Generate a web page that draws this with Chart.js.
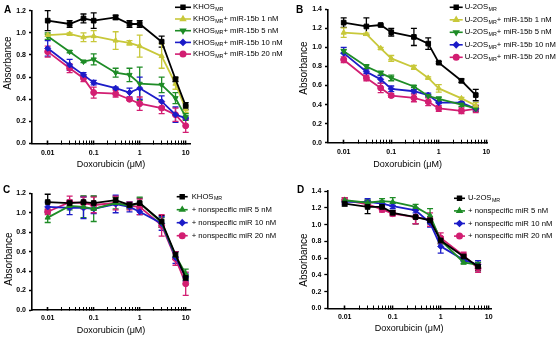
<!DOCTYPE html>
<html>
<head>
<meta charset="utf-8">
<script src="https://cdn.jsdelivr.net/npm/chart.js@4.4.1/dist/chart.umd.min.js"></script>
<style>
  html, body { margin: 0; padding: 0; background: #fff; }
  #wrap { position: relative; width: 558px; height: 339px; overflow: hidden; }
  canvas { position: absolute; }
</style>
</head>
<body>
<div id="wrap">
  <canvas id="chartA" width="300" height="170" style="left:0;top:0"></canvas>
  <canvas id="chartB" width="279" height="170" style="left:279px;top:0"></canvas>
  <canvas id="chartC" width="300" height="169" style="left:0;top:170px"></canvas>
  <canvas id="chartD" width="279" height="169" style="left:279px;top:170px"></canvas>
</div>
<script>
// doses (µM)
const dosesKhos = [0.01, 0.03, 0.06, 0.1, 0.3, 0.6, 1, 3, 6, 10];
const dosesU2os = [0.01, 0.03, 0.06, 0.1, 0.3, 0.6, 1, 3, 6];
const xTickLabels = ['0.01', '0.1', '1', '10'];

// Panel A : KHOS + miR-15b
const khosCtrl    = [1.11, 1.08, 1.13, 1.11, 1.14, 1.08, 1.08, 0.92, 0.58, 0.34];
const khosCtrlErr = [0.09, 0.03, 0.04, 0.07, 0.02, 0.03, 0.03, 0.05, 0.02, 0.03];
const khos1nM     = [0.98, 0.99, 0.96, 0.97, 0.93, 0.91, 0.88, 0.79, 0.54, 0.31];
const khos1nMErr  = [0.01, 0.01, 0.04, 0.05, 0.08, 0.02, 0.10, 0.11, 0.05, 0.03];
const khos5nM     = [0.97, 0.83, 0.74, 0.76, 0.64, 0.62, 0.54, 0.53, 0.41, 0.24];
const khos5nMErr  = [0.03, 0.01, 0.01, 0.05, 0.04, 0.06, 0.15, 0.07, 0.05, 0.03];
const khos10nM    = [0.86, 0.71, 0.62, 0.55, 0.50, 0.46, 0.50, 0.38, 0.26, 0.23];
const khos10nMErr = [0.07, 0.05, 0.02, 0.02, 0.01, 0.04, 0.10, 0.05, 0.07, 0.01];
const khos20nM    = [0.83, 0.68, 0.59, 0.46, 0.45, 0.40, 0.36, 0.32, 0.26, 0.16];
const khos20nMErr = [0.05, 0.04, 0.03, 0.05, 0.03, 0.01, 0.06, 0.05, 0.06, 0.06];

// Panel B : U-2OS + miR-15b
const u2osCtrl    = [1.26, 1.22, 1.235, 1.16, 1.11, 1.04, 0.84, 0.65, 0.50];
const u2osCtrlErr = [0.05, 0.09, 0.01, 0.04, 0.09, 0.06, 0.01, 0.02, 0.06];
const u2os1nM     = [1.155, 1.14, 0.99, 0.885, 0.79, 0.68, 0.57, 0.465, 0.39];
const u2os1nMErr  = [0.05, 0.01, 0.01, 0.03, 0.02, 0.01, 0.04, 0.01, 0.03];
const u2os5nM     = [0.96, 0.80, 0.73, 0.68, 0.59, 0.49, 0.46, 0.40, 0.36];
const u2os5nMErr  = [0.02, 0.02, 0.02, 0.03, 0.01, 0.01, 0.02, 0.02, 0.03];
const u2os10nM    = [0.94, 0.745, 0.665, 0.565, 0.54, 0.50, 0.42, 0.42, 0.355];
const u2os10nMErr = [0.06, 0.02, 0.04, 0.03, 0.02, 0.02, 0.01, 0.01, 0.02];
const u2os20nM    = [0.87, 0.68, 0.575, 0.495, 0.47, 0.43, 0.36, 0.335, 0.355];
const u2os20nMErr = [0.03, 0.03, 0.05, 0.02, 0.04, 0.04, 0.03, 0.03, 0.04];

// Panel C : KHOS + nonspecific miR
const khosNsCtrl    = [1.11, 1.10, 1.11, 1.10, 1.13, 1.08, 1.10, 0.91, 0.57, 0.33];
const khosNsCtrlErr = [0.08, 0.03, 0.06, 0.07, 0.03, 0.03, 0.05, 0.06, 0.03, 0.03];
const khosNs5nM     = [0.95, 1.07, 1.06, 1.04, 1.10, 1.07, 1.10, 0.90, 0.56, 0.37];
const khosNs5nMErr  = [0.05, 0.04, 0.11, 0.13, 0.06, 0.03, 0.06, 0.05, 0.04, 0.05];
const khosNs10nM    = [1.06, 1.05, 1.05, 1.04, 1.09, 1.06, 1.01, 0.89, 0.54, 0.34];
const khosNs10nMErr = [0.05, 0.07, 0.11, 0.05, 0.09, 0.05, 0.03, 0.07, 0.06, 0.04];
const khosNs20nM    = [1.01, 1.11, 1.10, 1.08, 1.10, 1.07, 1.06, 0.87, 0.53, 0.27];
const khosNs20nMErr = [0.03, 0.06, 0.06, 0.08, 0.07, 0.04, 0.08, 0.11, 0.07, 0.12];

// Panel D : U-2OS + nonspecific miR
const u2osNsCtrl    = [1.25, 1.21, 1.21, 1.14, 1.09, 1.05, 0.81, 0.62, 0.50];
const u2osNsCtrlErr = [0.03, 0.08, 0.03, 0.03, 0.08, 0.04, 0.04, 0.03, 0.05];
const u2osNs5nM     = [1.29, 1.26, 1.28, 1.27, 1.21, 1.11, 0.81, 0.55, 0.52];
const u2osNs5nMErr  = [0.03, 0.03, 0.03, 0.05, 0.03, 0.08, 0.03, 0.02, 0.03];
const u2osNs10nM    = [1.27, 1.27, 1.25, 1.22, 1.17, 1.02, 0.74, 0.58, 0.52];
const u2osNs10nMErr = [0.03, 0.04, 0.03, 0.03, 0.03, 0.05, 0.08, 0.02, 0.05];
const u2osNs20nM    = [1.29, 1.24, 1.18, 1.13, 1.09, 1.06, 0.84, 0.63, 0.48];
const u2osNs20nMErr = [0.03, 0.03, 0.03, 0.03, 0.08, 0.08, 0.06, 0.04, 0.05];

// legend labels : [text, subscript, text after]
const legendA = [['KHOS', 'MR', ''], ['KHOS', 'MR', '+ miR-15b 1 nM'], ['KHOS', 'MR', '+ miR-15b 5 nM'],
                 ['KHOS', 'MR', '+ miR-15b 10 nM'], ['KHOS', 'MR', '+ miR-15b 20 nM']];
const legendB = [['U-2OS', 'MR', ''], ['U-2OS', 'MR', '+ miR-15b 1 nM'], ['U-2OS', 'MR', '+ miR-15b 5 nM'],
                 ['U-2OS', 'MR', '+ miR-15b 10 nM'], ['U-2OS', 'MR', '+ miR-15b 20 nM']];
const legendC = [['KHOS', 'MR', ''], ['+ nonspecific miR 5 nM', '', ''], ['+ nonspecific miR 10 nM', '', ''],
                 ['+ nonspecific miR 20 nM', '', '']];
const legendD = [['U-2OS', 'MR', ''], ['+ nonspecific miR 5 nM', '', ''], ['+ nonspecific miR 10 nM', '', ''],
                 ['+ nonspecific miR 20 nM', '', '']];

const BLACK = '#000000', YELLOW = '#c8c83a', GREEN = '#1e8c26', BLUE = '#1c1cc8', MAGENTA = '#d21e72';
const FONT = '"Liberation Sans", Arial, sans-serif';

// ticks 0.01 .. 10 (majors + minors)
const xTickValues = [];
[0.01, 0.1, 1].forEach(d => { for (let k = 1; k <= 9; k++) xTickValues.push(+(k * d).toPrecision(3)); });
xTickValues.push(10);

function isDecade(v) {
  const l = Math.log10(v);
  return Math.abs(l - Math.round(l)) < 1e-6;
}

// error bars drawn through the y scale
const errorBars = {
  id: 'errorBars',
  beforeDatasetsDraw(chart) {
    const ctx = chart.ctx, ys = chart.scales.y;
    chart.data.datasets.forEach((ds, i) => {
      const meta = chart.getDatasetMeta(i);
      ctx.save();
      ctx.strokeStyle = ds.borderColor;
      ctx.lineWidth = 1.3;
      meta.data.forEach((pt, j) => {
        const v = ds.data[j].y, e = ds.errors[j];
        const top = ys.getPixelForValue(v + e), bot = ys.getPixelForValue(v - e);
        ctx.beginPath();
        ctx.moveTo(pt.x, top); ctx.lineTo(pt.x, bot);
        ctx.moveTo(pt.x - 3, top); ctx.lineTo(pt.x + 3, top);
        ctx.moveTo(pt.x - 3, bot); ctx.lineTo(pt.x + 3, bot);
        ctx.stroke();
      });
      ctx.restore();
    });
  }
};

// panel letter, y title and legend with subscripts
const panelDecor = {
  id: 'panelDecor',
  afterDraw(chart, args, o) {
    const ctx = chart.ctx;
    ctx.save();
    ctx.textBaseline = 'middle';
    ctx.textAlign = 'left';
    ctx.fillStyle = '#000';
    ctx.font = 'bold 10px ' + FONT;
    ctx.fillText(o.letter, o.letterX, o.letterY);

    ctx.save();
    ctx.translate(o.titleX, o.titleY);
    ctx.rotate(-Math.PI / 2);
    ctx.textAlign = 'center';
    ctx.font = '10px ' + FONT;
    ctx.fillText('Absorbance', 0, 0);
    ctx.restore();

    chart.data.datasets.forEach((ds, i) => {
      const y = o.y + i * o.rowH;
      ctx.strokeStyle = ds.borderColor;
      ctx.fillStyle = ds.borderColor;
      ctx.lineWidth = 1.6;
      ctx.beginPath();
      ctx.moveTo(o.x, y); ctx.lineTo(o.x + o.len, y);
      ctx.stroke();
      Chart.helpers.drawPoint(ctx, {
        pointStyle: ds.pointStyle, radius: 2.7, rotation: ds.pointRotation || 0, borderWidth: 1
      }, o.x + o.len / 2, y);
      const parts = ds.legendParts;
      let x = o.x + o.len + o.gap;
      ctx.fillStyle = '#000';
      ctx.font = '7.7px ' + FONT;
      ctx.fillText(parts[0], x, y);
      x += ctx.measureText(parts[0]).width;
      if (parts[1]) {
        ctx.font = '5.3px ' + FONT;
        ctx.fillText(parts[1], x + 0.4, y + 2.3);
        x += ctx.measureText(parts[1]).width + 0.4;
      }
      if (parts[2]) {
        ctx.font = '7.7px ' + FONT;
        ctx.fillText(parts[2], x, y);
      }
    });
    ctx.restore();
  }
};

function dataset(doses, values, errors, color, style, rotation, legendParts) {
  return {
    data: doses.map((d, i) => ({ x: d, y: values[i] })),
    errors: errors,
    legendParts: legendParts,
    borderColor: color,
    backgroundColor: color,
    pointBackgroundColor: color,
    pointBorderColor: color,
    borderWidth: 1.8,
    pointStyle: style,
    pointRotation: rotation,
    pointRadius: style === 'rect' ? 3.3 : 3,
    pointBorderWidth: 1,
    tension: 0,
    clip: false
  };
}

function makeChart(id, p) {
  const d = (p.p2 - p.p1) / 3;
  const xMin = Math.pow(10, -2 - (p.p1 - p.left) / d);
  const xMax = Math.pow(10, 1 + (p.right - p.p2) / d);
  const canvas = document.getElementById(id);
  return new Chart(canvas.getContext('2d'), {
    type: 'line',
    data: { datasets: p.datasets },
    options: {
      responsive: false,
      animation: false,
      layout: { padding: { left: p.left - 32, top: p.top, right: canvas.width - p.right, bottom: 0 } },
      plugins: {
        legend: { display: false },
        tooltip: { enabled: false },
        panelDecor: p.decor
      },
      scales: {
        x: {
          type: 'logarithmic',
          min: xMin,
          max: xMax,
          afterBuildTicks: s => { s.ticks = xTickValues.map(v => ({ value: v, major: isDecade(v) })); },
          afterFit: s => { s.height = canvas.height - p.bottom; },
          ticks: {
            autoSkip: false,
            maxRotation: 0,
            padding: p.labelPad,
            color: '#000',
            font: { family: FONT, size: 7, weight: 'bold' },
            callback: v => isDecade(v) ? xTickLabels[Math.round(Math.log10(v)) + 2] : ''
          },
          grid: {
            drawOnChartArea: false,
            tickLength: -3,
            tickColor: '#000',
            tickWidth: c => (c.tick && isDecade(c.tick.value)) ? 1.6 : 1
          },
          border: { color: '#000', width: 1.6 },
          title: {
            display: true, text: 'Doxorubicin (μM)', color: '#000',
            font: { family: FONT, size: 9 }, padding: { top: 0, bottom: p.titlePad }
          }
        },
        y: {
          type: 'linear',
          min: 0,
          max: p.yMax,
          afterFit: s => { s.width = 32; },
          ticks: {
            stepSize: 0.2,
            padding: 3,
            color: '#000',
            font: { family: FONT, size: 7, weight: 'bold' },
            callback: v => v.toFixed(1)
          },
          grid: { drawOnChartArea: false, tickLength: 3, tickColor: '#000', tickWidth: 1.3 },
          border: { color: '#000', width: 1.6 },
          title: { display: false }
        }
      }
    },
    plugins: [errorBars, panelDecor]
  });
}

makeChart('chartA', {
  left: 32, right: 190, top: 10.7, bottom: 143.5, p1: 47.7, p2: 185.7, yMax: 1.2, labelPad: 8, titlePad: 0,
  decor: { letter: 'A', letterX: 4, letterY: 10.5, titleX: 8.5, titleY: 63,
           x: 175, len: 16, gap: 2, y: 7.3, rowH: 11.7 },
  datasets: [
    dataset(dosesKhos, khosCtrl, khosCtrlErr, BLACK, 'rect', 0, legendA[0]),
    dataset(dosesKhos, khos1nM, khos1nMErr, YELLOW, 'triangle', 0, legendA[1]),
    dataset(dosesKhos, khos5nM, khos5nMErr, GREEN, 'triangle', 180, legendA[2]),
    dataset(dosesKhos, khos10nM, khos10nMErr, BLUE, 'rectRot', 0, legendA[3]),
    dataset(dosesKhos, khos20nM, khos20nMErr, MAGENTA, 'circle', 0, legendA[4])
  ]
});

makeChart('chartB', {
  left: 49, right: 208.3, top: 9.3, bottom: 142.7, p1: 64.7, p2: 207.3, yMax: 1.4, labelPad: 8.5, titlePad: 0,
  decor: { letter: 'B', letterX: 17, letterY: 10.5, titleX: 25, titleY: 68,
           x: 170.7, len: 13, gap: 2, y: 7.3, rowH: 12.5 },
  datasets: [
    dataset(dosesU2os, u2osCtrl, u2osCtrlErr, BLACK, 'rect', 0, legendB[0]),
    dataset(dosesU2os, u2os1nM, u2os1nMErr, YELLOW, 'triangle', 0, legendB[1]),
    dataset(dosesU2os, u2os5nM, u2os5nMErr, GREEN, 'triangle', 180, legendB[2]),
    dataset(dosesU2os, u2os10nM, u2os10nMErr, BLUE, 'rectRot', 0, legendB[3]),
    dataset(dosesU2os, u2os20nM, u2os20nMErr, MAGENTA, 'circle', 0, legendB[4])
  ]
});

makeChart('chartC', {
  left: 32, right: 190, top: 23.3, bottom: 140, p1: 47.7, p2: 185.7, yMax: 1.2, labelPad: 6.5, titlePad: 3.5,
  decor: { letter: 'C', letterX: 3, letterY: 20.5, titleX: 8.8, titleY: 89,
           x: 176.7, len: 11, gap: 4, y: 26.7, rowH: 13 },
  datasets: [
    dataset(dosesKhos, khosNsCtrl, khosNsCtrlErr, BLACK, 'rect', 0, legendC[0]),
    dataset(dosesKhos, khosNs5nM, khosNs5nMErr, GREEN, 'triangle', 0, legendC[1]),
    dataset(dosesKhos, khosNs10nM, khosNs10nMErr, BLUE, 'rectRot', 0, legendC[2]),
    dataset(dosesKhos, khosNs20nM, khosNs20nMErr, MAGENTA, 'circle', 0, legendC[3])
  ]
});

makeChart('chartD', {
  left: 48.3, right: 212, top: 21, bottom: 138.5, p1: 65.7, p2: 209.7, yMax: 1.4, labelPad: 7, titlePad: 5.3,
  decor: { letter: 'D', letterX: 18, letterY: 20, titleX: 25, titleY: 90,
           x: 175, len: 11, gap: 3, y: 28.3, rowH: 12.6 },
  datasets: [
    dataset(dosesU2os, u2osNsCtrl, u2osNsCtrlErr, BLACK, 'rect', 0, legendD[0]),
    dataset(dosesU2os, u2osNs5nM, u2osNs5nMErr, GREEN, 'triangle', 0, legendD[1]),
    dataset(dosesU2os, u2osNs10nM, u2osNs10nMErr, BLUE, 'rectRot', 0, legendD[2]),
    dataset(dosesU2os, u2osNs20nM, u2osNs20nMErr, MAGENTA, 'circle', 0, legendD[3])
  ]
});
</script>
</body>
</html>
